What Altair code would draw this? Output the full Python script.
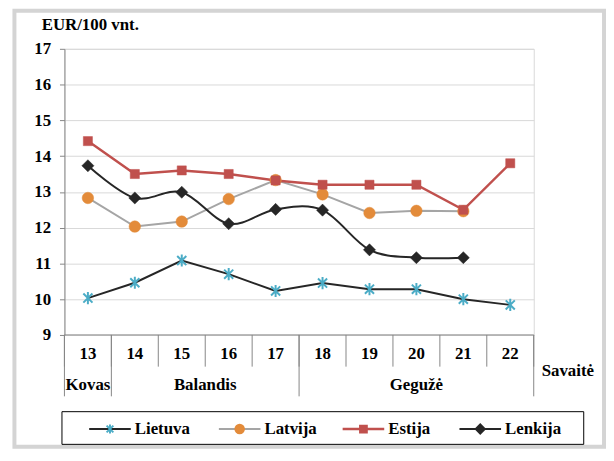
import altair as alt
import pandas as pd

# ---- data ----
weeks = [13, 14, 15, 16, 17, 18, 19, 20, 21, 22]
lietuva = [10.03, 10.46, 11.08, 10.70, 10.23, 10.45, 10.28, 10.28, 10.00, 9.84]
latvija = [12.83, 12.03, 12.17, 12.80, 13.33, 12.93, 12.41, 12.47, 12.46, None]
estija = [14.42, 13.50, 13.60, 13.50, 13.32, 13.20, 13.20, 13.20, 12.50, 13.80]
lenkija = [13.73, 12.83, 12.99, 12.11, 12.51, 12.49, 11.38, 11.16, 11.16, None]
series_names = ["Lietuva", "Latvija", "Estija", "Lenkija"]
month_names = ["Kovas", "Balandis", "Gegužė"]
month_first_week = [13, 14, 18]
month_last_week = [13, 17, 22]
y_ticks = [9, 10, 11, 12, 13, 14, 15, 16, 17]
y_title = "EUR/100 vnt."
x_title = "Savaitė"

# ---- styling / layout ----
FONT = "Liberation Serif, Times New Roman, DejaVu Serif, serif"
FS = 17
W, H = 474, 289
xs = alt.Scale(domain=[weeks[0] - 0.5, weeks[-1] + 0.5], nice=False, zero=False)
ys = alt.Scale(domain=[y_ticks[0], y_ticks[-1]], nice=False, zero=False)
yaxis = alt.Axis(
    values=y_ticks, title=None, grid=True, gridColor="#D9D9D9", gridWidth=1,
    domainColor="#868686", tickColor="#868686", tickSize=5, labelPadding=9,
    labelFont=FONT, labelFontSize=FS, labelFontWeight="bold", labelColor="#000000",
    labelOverlap=False,
)


def X(field):
    return alt.X(field, scale=xs, axis=None)


def Y(field):
    return alt.Y(field, scale=ys, axis=yaxis)


asterisk = "M-0.75,-0.75L0.75,0.75M-0.75,0.75L0.75,-0.75M0,-1L0,1"
styles = {
    "Lietuva": dict(line="#262626", mark="#4BACC6", shape=asterisk, filled=False, size=150, lw=2, interp="linear"),
    "Latvija": dict(line="#A5A5A5", mark="#E38B3A", shape="circle", filled=True, size=135, lw=2, interp="linear"),
    "Estija": dict(line="#C0504D", mark="#C0504D", shape="square", filled=True, size=85, lw=2.5, interp="linear"),
    "Lenkija": dict(line="#262626", mark="#262626", shape="diamond", filled=True, size=150, lw=2, interp="cardinal"),
}
values = {"Lietuva": lietuva, "Latvija": latvija, "Estija": estija, "Lenkija": lenkija}

layers = []

# outer frame
frame = alt.Chart(alt.Data(values=[{"a": 1}])).mark_rect(
    fill=None, stroke="#D4D4D4", strokeWidth=4
).encode(x=alt.value(-50.5), x2=alt.value(545), y=alt.value(-38.5), y2=alt.value(402))
layers.append(frame)

# axis base (gridlines + y axis)
base_df = pd.DataFrame({"w": [weeks[0]], "v": [y_ticks[0]]})
layers.append(alt.Chart(base_df).mark_point(opacity=0).encode(x=X("w:Q"), y=Y("v:Q")))

# bottom axis line
layers.append(alt.Chart(alt.Data(values=[{"a": 1}])).mark_rule(color="#868686", strokeWidth=1).encode(
    x=alt.value(0), x2=alt.value(W), y=alt.value(H)))

# week separators
bounds = [w - 0.5 for w in weeks] + [weeks[-1] + 0.5]
sep_df = pd.DataFrame({"b": bounds})
layers.append(alt.Chart(sep_df).mark_rule(color="#868686", strokeWidth=1).encode(
    x=X("b:Q"), y=alt.value(H), y2=alt.value(H + 32)))

# month separators
mb = [f - 0.5 for f in month_first_week] + [month_last_week[-1] + 0.5]
msep_df = pd.DataFrame({"b": mb})
layers.append(alt.Chart(msep_df).mark_rule(color="#868686", strokeWidth=1).encode(
    x=X("b:Q"), y=alt.value(H), y2=alt.value(H + 62)))

# week labels
wl_df = pd.DataFrame({"w": weeks, "t": [str(w) for w in weeks]})
layers.append(alt.Chart(wl_df).mark_text(font=FONT, fontSize=FS, fontWeight="bold", color="#000",
                                          baseline="middle", align="center").encode(
    x=X("w:Q"), y=alt.value(H + 19), text="t:N"))

# month labels
ml_df = pd.DataFrame({"c": [(a + b) / 2 for a, b in zip(month_first_week, month_last_week)],
                      "t": month_names})
layers.append(alt.Chart(ml_df).mark_text(font=FONT, fontSize=FS, fontWeight="bold", color="#000",
                                          baseline="middle", align="center").encode(
    x=X("c:Q"), y=alt.value(H + 51), text="t:N"))

# axis titles
layers.append(alt.Chart(alt.Data(values=[{"t": x_title}])).mark_text(
    font=FONT, fontSize=FS, fontWeight="bold", color="#000", align="left", baseline="middle"
).encode(x=alt.value(W + 8), y=alt.value(H + 36), text="t:N"))
layers.append(alt.Chart(alt.Data(values=[{"t": y_title}])).mark_text(
    font=FONT, fontSize=FS, fontWeight="bold", color="#000", align="left", baseline="middle"
).encode(x=alt.value(-23), y=alt.value(-24), text="t:N"))

# series
for name in series_names:
    st = styles[name]
    df = pd.DataFrame({"w": weeks, "v": values[name]}).dropna()
    layers.append(alt.Chart(df).mark_line(color=st["line"], strokeWidth=st["lw"],
                                          interpolate=st["interp"]).encode(x=X("w:Q"), y=Y("v:Q")))
for name in series_names:
    st = styles[name]
    df = pd.DataFrame({"w": weeks, "v": values[name]}).dropna()
    if st["filled"]:
        m = alt.Chart(df).mark_point(shape=st["shape"], filled=True, fill=st["mark"], stroke=st["mark"],
                                     strokeWidth=0.5, size=st["size"], opacity=1)
    else:
        m = alt.Chart(df).mark_point(shape=st["shape"], filled=False, stroke=st["mark"],
                                     strokeWidth=2, size=st["size"], opacity=1)
    layers.append(m.encode(x=X("w:Q"), y=Y("v:Q")))

# legend box
layers.append(alt.Chart(alt.Data(values=[{"a": 1}])).mark_rect(
    fill="#FFFFFF", stroke="#000000", strokeWidth=1
).encode(x=alt.value(-2.5), x2=alt.value(524.5), y=alt.value(366.5), y2=alt.value(399.5)))

leg_line_x = [25, 156, 281, 399]
leg_len = 42
LEG_Y = 384
leg_df = pd.DataFrame({
    "name": series_names,
    "x1": leg_line_x,
    "x2": [x + leg_len for x in leg_line_x],
    "xm": [x + leg_len / 2 for x in leg_line_x],
    "xt": [x + leg_len + 4 for x in leg_line_x],
})
for i, name in enumerate(series_names):
    st = styles[name]
    sub = leg_df.iloc[[i]]
    layers.append(alt.Chart(sub).mark_rule(color=st["line"], strokeWidth=st["lw"]).encode(
        x=alt.X("x1:Q", scale=None), x2="x2:Q", y=alt.value(LEG_Y)))
    if st["filled"]:
        pm = alt.Chart(sub).mark_point(shape=st["shape"], filled=True, fill=st["mark"],
                                       stroke=st["mark"], size=st["size"] * 0.55, opacity=1)
    else:
        pm = alt.Chart(sub).mark_point(shape=st["shape"], filled=False, stroke=st["mark"],
                                       strokeWidth=2, size=st["size"] * 0.55, opacity=1)
    layers.append(pm.encode(x=alt.X("xm:Q", scale=None), y=alt.value(LEG_Y)))
layers.append(alt.Chart(leg_df).mark_text(font=FONT, fontSize=FS, fontWeight="bold", color="#000",
                                           align="left", baseline="middle").encode(
    x=alt.X("xt:Q", scale=None), y=alt.value(LEG_Y), text="name:N"))

chart = alt.layer(*layers).properties(
    width=W, height=H,
    autosize=alt.AutoSizeParams(type="none"),
    padding={"left": 57, "top": 39, "right": 73, "bottom": 117},
    background="#FFFFFF",
).configure_view(stroke="#D9D9D9", strokeWidth=1)

chart.save("out.html", embed_options={"renderer": "svg", "actions": False})
